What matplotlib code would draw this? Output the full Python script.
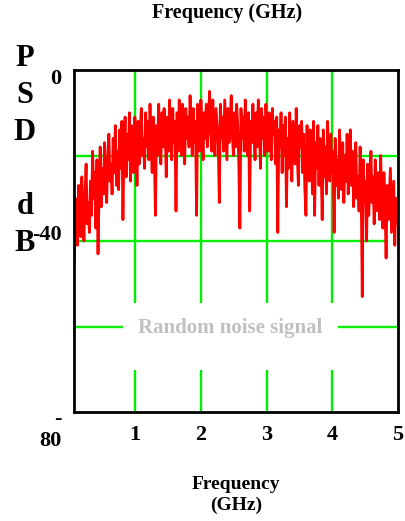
import numpy as np
import matplotlib
matplotlib.use("Agg")
import matplotlib.pyplot as plt
from matplotlib.transforms import ScaledTranslation

# ---- data ----
psd_db = [
    -44, -30, -37, -41, -27, -35, -39, -25, -33, -40, -29, -22, -36, -31, -38,
    -26, -34, -19, -30, -24, -37, -21, -43, -28, -18, -32, -23, -29, -17, -27,
    -31, -20, -15, -26, -22, -29, -16, -24, -13, -27, -19, -28, -14, -23, -12,
    -35, -18, -11, -25, -15, -21, -10, -26, -13, -19, -24, -11, -17, -27, -12,
    -22, -14, -9, -20, -16, -23, -10, -18, -12, -21, -8, -17, -24, -11, -19,
    -34, -13, -20, -8, -16, -22, -10, -18, -9, -14, -25, -11, -19, -7, -15,
    -21, -9, -17, -12, -33, -10, -19, -7, -15, -20, -8, -13, -22, -9, -16,
    -11, -18, -6, -14, -20, -9, -17, -12, -34, -8, -15, -19, -7, -13, -21,
    -10, -16, -8, -18, -12, -5, -14, -19, -7, -15, -20, -9, -13, -17, -31,
    -8, -16, -11, -19, -7, -14, -21, -9, -17, -12, -6, -15, -20, -10, -18,
    -8, -13, -22, -37, -9, -16, -11, -19, -7, -14, -20, -10, -33, -12, -17,
    -8, -15, -21, -10, -18, -7, -13, -23, -9, -16, -11, -20, -8, -14, -19,
    -10, -17, -21, -9, -15, -12, -22, -11, -38, -14, -18, -10, -24, -13, -20,
    -11, -32, -16, -23, -10, -19, -26, -12, -17, -22, -9, -20, -27, -13, -18,
    -12, -24, -15, -28, -34, -13, -21, -26, -14, -19, -29, -12, -34, -17, -23,
    -13, -27, -16, -22, -35, -14, -25, -18, -29, -12, -21, -26, -15, -24, -19,
    -38, -16, -27, -21, -30, -14, -24, -28, -17, -31, -20, -26, -15, -29, -22,
    -14, -27, -19, -32, -23, -17, -30, -25, -33, -18, -28, -53, -21, -31, -26,
    -40, -22, -34, -27, -19, -31, -25, -36, -21, -29, -33, -24, -35, -20, -30,
    -37, -24, -31, -44, -27, -35, -29, -23, -38, -32, -26, -41, -30, -36, -33,
]
freq_start, freq_stop = 0.075, 5.0
freq_ghz = np.linspace(freq_start, freq_stop, len(psd_db))

x_ticks = [1, 2, 3, 4, 5]
x_tick_labels = ["1", "2", "3", "4", "5"]
y_ticks = [0, -40, -80]
y_tick_labels = ["0", "-40", "-\n80"]
grid_y = [-20, -40, -60]
grid_x = [1, 2, 3, 4]

title_text = "Frequency (GHz)"
xlabel_text = "Frequency\n(GHz)"
ylabel_text = "P\nS\nD\n\nd\nB"
note_text = "Random noise signal"

# ---- figure ----
plt.rcParams["font.family"] = ["Liberation Serif", "DejaVu Serif"]
plt.rcParams["font.weight"] = "bold"

W, H = 406, 521
fig = plt.figure(figsize=(W / 100, H / 100), dpi=100)
ax = fig.add_axes([74 / W, 1 - 412 / H, (398 - 74) / W, (412 - 70) / H])

green = "#00ee00"
for gy in grid_y:
    ax.axhline(gy, xmax=(0.966 if gy == -40 else 1.0), color=green, lw=1.7, zorder=1)
for gx in grid_x:
    ax.axvline(gx, color=green, lw=1.7, zorder=1)

ax.plot(freq_ghz, psd_db, color="#ff0000", lw=2.0, zorder=3)

ax.set_xlim(0.072, 5.0)
ax.set_ylim(-80, 0)

for s in ax.spines.values():
    s.set_linewidth(2.0)
    s.set_color("black")
    s.set_zorder(5)

ax.set_xticks(x_ticks)
ax.set_xticklabels(x_tick_labels, fontsize=16, fontweight="bold")
ax.set_yticks(y_ticks)
ax.set_yticklabels(y_tick_labels, fontsize=16, fontweight="bold",
                   multialignment="right")
ax.tick_params(axis="both", length=0)
ax.tick_params(axis="x", pad=9)
ax.tick_params(axis="y", pad=9)

# small per-label vertical shifts as in the reference
y_shifts_px = [-6, 8, -14]
for lab, dy in zip(ax.get_yticklabels(), y_shifts_px):
    lab.set_transform(lab.get_transform() + ScaledTranslation(0, dy / 100, fig.dpi_scale_trans))

ax.text(2.45, -58.0, note_text + "\n", fontsize=15, fontweight="bold",
        color="#c0c0c0", ha="center", va="top", zorder=4, linespacing=0.8,
        bbox=dict(boxstyle="square,pad=0.72", fc="white", ec="none"))

fig.text(227 / W, 1 - 13 / H, title_text, fontsize=14.5, fontweight="bold",
         ha="center", va="center")
fig.text(236 / W, 1 - 495 / H, xlabel_text, fontsize=14, fontweight="bold",
         ha="center", va="center", linespacing=1.25)
fig.text(25 / W, 1 - 151 / H, ylabel_text, fontsize=22, fontweight="bold",
         ha="center", va="center", linespacing=1.37)

fig.savefig("out.png", dpi=100)
